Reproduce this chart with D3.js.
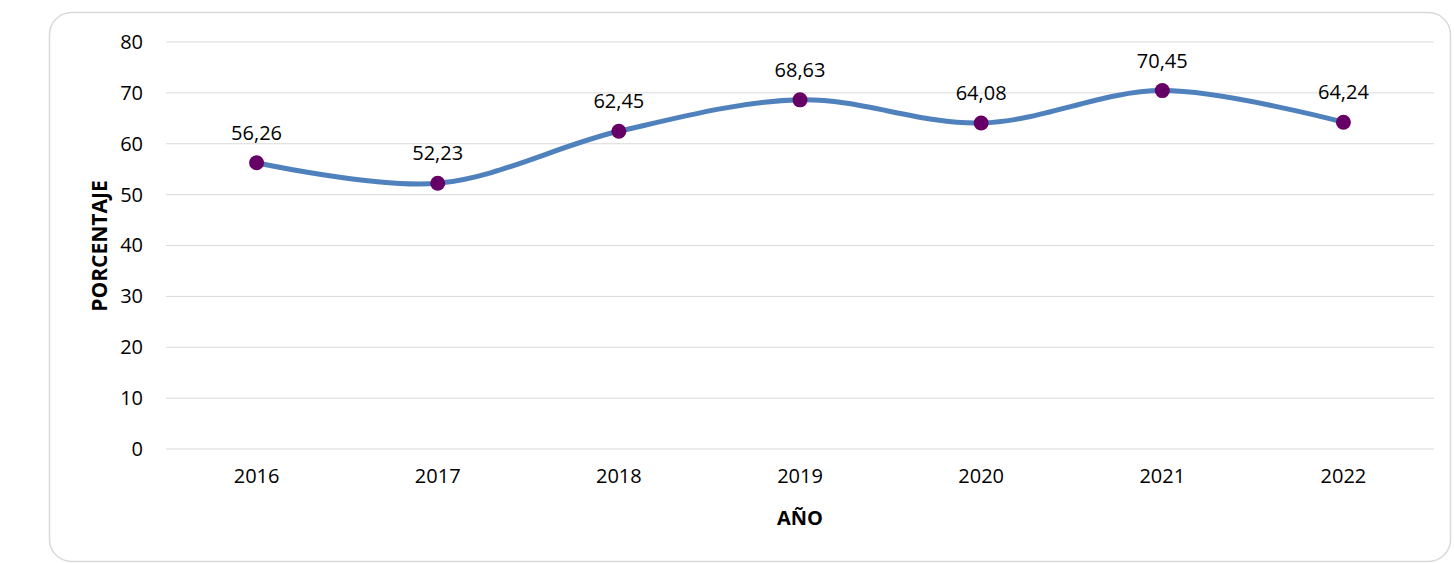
<!DOCTYPE html>
<html>
<head>
<meta charset="utf-8">
<script src="https://cdn.jsdelivr.net/npm/d3@7"></script>
<style>
  html, body { margin: 0; padding: 0; background: #fff; }
  svg { display: block; font-family: "Open Sans", "Noto Sans", sans-serif; }
</style>
</head>
<body>
<div id="chart"></div>
<script>
// data
var years = ["2016", "2017", "2018", "2019", "2020", "2021", "2022"];
var values = [56.26, 52.23, 62.45, 68.63, 64.08, 70.45, 64.24];
var yTicks = [0, 10, 20, 30, 40, 50, 60, 70, 80];

var width = 1454, height = 563;
var margin = {top: 42, right: 20, bottom: 114, left: 166};
var plotW = 1434 - margin.left, plotH = 449 - margin.top;

var svg = d3.select("#chart").append("svg")
    .attr("width", width).attr("height", height);

// outer frame
svg.append("rect")
    .attr("x", 49.5).attr("y", 12.5)
    .attr("width", 1401).attr("height", 549)
    .attr("rx", 22).attr("ry", 22)
    .attr("fill", "#fff").attr("stroke", "#d9d9d9").attr("stroke-width", 1.5);

var g = svg.append("g").attr("transform", "translate(" + margin.left + "," + margin.top + ")");

var x = d3.scaleBand().domain(years).range([0, plotW]);
var y = d3.scaleLinear().domain([0, 80]).range([plotH, 0]);

// gridlines
g.append("g").selectAll("line").data(yTicks).enter().append("line")
    .attr("x1", 0).attr("x2", plotW)
    .attr("y1", function(d){ return y(d); }).attr("y2", function(d){ return y(d); })
    .attr("stroke", "#d9d9d9").attr("stroke-width", 1);

// y axis labels
var yAxis = g.append("g").call(d3.axisLeft(y).tickValues(yTicks).tickSize(0).tickPadding(23));
yAxis.select(".domain").remove();
yAxis.selectAll("text").attr("font-size", 20).attr("fill", "#000")
    .attr("font-family", "'Open Sans', sans-serif");

// x axis labels
var xAxis = g.append("g").attr("transform", "translate(0," + plotH + ")")
    .call(d3.axisBottom(x).tickSize(0).tickPadding(20));
xAxis.select(".domain").remove();
xAxis.selectAll("text").attr("font-size", 20).attr("fill", "#000")
    .attr("font-family", "'Open Sans', sans-serif");

// axis titles
svg.append("text")
    .attr("transform", "translate(107,246) rotate(-90)")
    .attr("text-anchor", "middle")
    .attr("font-size", 21).attr("font-weight", "bold")
    .text("PORCENTAJE");

svg.append("text")
    .attr("x", margin.left + plotW / 2).attr("y", 525)
    .attr("text-anchor", "middle")
    .attr("font-size", 20).attr("font-weight", "bold")
    .text("AÑO");

var pts = years.map(function(d, i){ return {year: d, value: values[i]}; });
var cx = function(d){ return x(d.year) + x.bandwidth() / 2; };

var line = d3.line().x(cx).y(function(d){ return y(d.value); })
    .curve(d3.curveCardinal.tension(0));

g.append("path").datum(pts)
    .attr("d", line)
    .attr("fill", "none")
    .attr("stroke", "#4f81bd")
    .attr("stroke-width", 5)
    .attr("stroke-linecap", "round");

g.selectAll("circle.pt").data(pts).enter().append("circle")
    .attr("class", "pt")
    .attr("cx", cx).attr("cy", function(d){ return y(d.value); })
    .attr("r", 7.5).attr("fill", "#660066");

// data labels
g.selectAll("text.lbl").data(pts).enter().append("text")
    .attr("class", "lbl")
    .attr("x", cx).attr("y", function(d){ return y(d.value) - 23; })
    .attr("text-anchor", "middle")
    .attr("font-size", 20).attr("fill", "#000")
    .text(function(d){ return d.value.toFixed(2).replace(".", ","); });
</script>
</body>
</html>
